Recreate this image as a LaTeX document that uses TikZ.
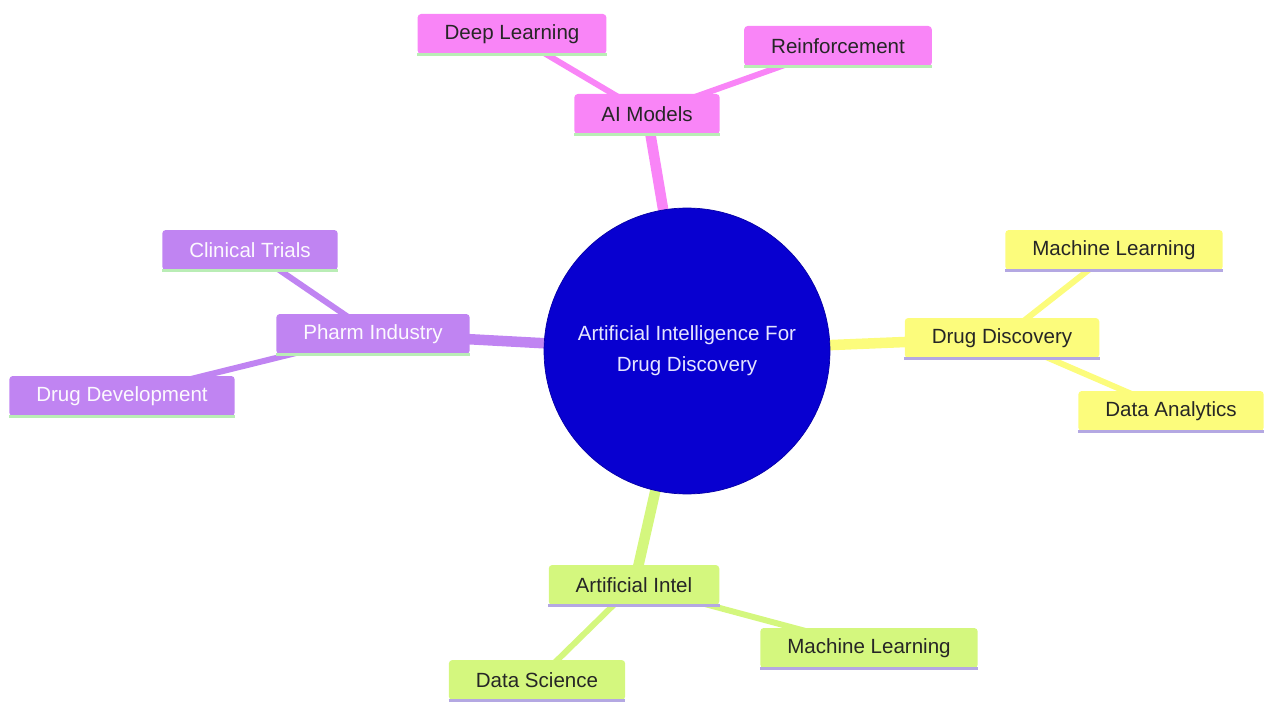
\documentclass[tikz,border=0pt]{standalone}
\usepackage{fontspec}
\setmainfont{Liberation Sans}
\usetikzlibrary{backgrounds}

\definecolor{hubblue}{HTML}{0800D0}
\definecolor{mpink}{HTML}{F985F7}
\definecolor{mpurple}{HTML}{C084F2}
\definecolor{myellow}{HTML}{FCFC7C}
\definecolor{mgreen}{HTML}{D4F77E}
\definecolor{ulgreen}{HTML}{B9EDB5}
\definecolor{ullav}{HTML}{B4A8E2}

\tikzset{
	leaf/.style={rounded corners=2pt, minimum height=0.8cm, inner xsep=0.54cm,
		font=\fontsize{11.7}{14}\selectfont, text=black!85},
	pinkleaf/.style={leaf, fill=mpink},
	purpleleaf/.style={leaf, fill=mpurple, text=white!95!mpurple},
	yellowleaf/.style={leaf, fill=myellow},
	greenleaf/.style={leaf, fill=mgreen},
	hub/.style={circle, fill=hubblue, draw=hubblue!80!black, minimum size=5.72cm,
		align=center, text=white!90!blue, font=\fontsize{11.7}{17.6}\selectfont},
	trunk/.style={line width=6pt},
	twig/.style={line width=3.4pt}
}

\begin{document}
\begin{tikzpicture}[x=0.02cm, y=-0.02cm]
	\useasboundingbox (0,0) rectangle (1264,702);

	\node[hub] (root) at (687,351) {Artificial Intelligence For\\Drug Discovery};

	\node[pinkleaf] (aim) at (647,114) {AI Models};
	\node[pinkleaf] (deep) at (512,34) {Deep Learning};
	\node[pinkleaf] (reinf) at (838,46) {Reinforcement};

	\node[purpleleaf] (pharm) at (373,334) {Pharm Industry};
	\node[purpleleaf] (trials) at (250,250) {Clinical Trials};
	\node[purpleleaf] (devel) at (122,396) {Drug Development};

	\node[yellowleaf] (disc) at (1002,338) {Drug Discovery};
	\node[yellowleaf] (mla) at (1114,250) {Machine Learning};
	\node[yellowleaf] (analyt) at (1171,411) {Data Analytics};

	\node[greenleaf] (aint) at (634,585) {Artificial Intel};
	\node[greenleaf] (mlb) at (869,648) {Machine Learning};
	\node[greenleaf] (dsci) at (537,680) {Data Science};

	% underlines
	\foreach \n / \col in {
	aim/ulgreen, deep/ulgreen, reinf/ulgreen,
	pharm/ulgreen, trials/ulgreen, devel/ulgreen,
	disc/ullav, mla/ullav, analyt/ullav,
	aint/ullav, mlb/ullav, dsci/ullav}
	{
		\draw[\col, line width=1.7pt] (\n.south west) -- (\n.south east);
	};

	\begin{scope}[on background layer]
	\foreach \i / \j / \col in {
	root/aim/mpink, root/pharm/mpurple, root/disc/myellow, root/aint/mgreen}
	{
		\path[draw=\col, trunk] (\i.center) -- (\j.center);
	};

	\foreach \i / \j / \col in {
	aim/deep/mpink, aim/reinf/mpink,
	pharm/trials/mpurple, pharm/devel/mpurple,
	disc/mla/myellow, disc/analyt/myellow,
	aint/mlb/mgreen, aint/dsci/mgreen}
	{
		\path[draw=\col, twig] (\i.center) -- (\j.center);
	};
	\end{scope}
\end{tikzpicture}
\end{document}
